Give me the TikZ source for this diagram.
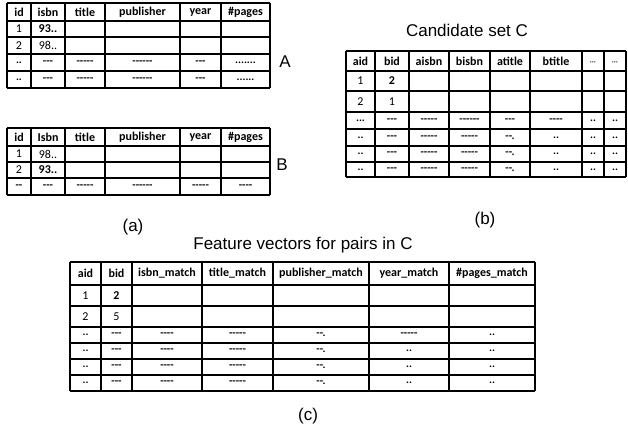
\documentclass[tikz,border=0pt]{standalone}
\usepackage{fontspec}
\setmainfont{Liberation Sans}
\newfontfamily\carlito[Ligatures=TeXOff]{Carlito}
\newcommand\Dtwo{..}
\newcommand\Dthree{...}
\newcommand\Dsix{......}
\newcommand\Dseven{.......}
\newcommand\Dsh{\textbf{--}.}
\tikzset{
 tbl/.style={line width=1.7pt},
 hd/.style={font=\carlito\bfseries\fontsize{12}{14}\selectfont, inner sep=0pt},
 cell/.style={font=\carlito\fontsize{12}{14}\selectfont, inner sep=0pt},
 bcell/.style={font=\carlito\bfseries\fontsize{12}{14}\selectfont, inner sep=0pt},
 dashcell/.style={font=\carlito\bfseries\fontsize{11}{13}\selectfont, inner sep=0pt},
 lbl/.style={font=\fontsize{17}{20}\selectfont, inner sep=0pt},
}
\begin{document}
\begin{tikzpicture}[x=1pt,y=-1pt]
\useasboundingbox (0,0) rectangle (628,424);

% ---------------- Table A ----------------
\foreach \x in {7,31,65,105,180,221,270} \draw[tbl] (\x,3) -- (\x,88);
\foreach \y in {3,21,37,54,71,88} \draw[tbl] (7,\y) -- (270,\y);
\foreach \x/\t [count=\i] in {19/id,48/isbn,85/title,142.5/publisher,200.5/year,245.5/\#pages}
  \node[hd] (Ah\i) at (\x,12) {\t};
\node[cell]  (Aa1) at (19,29) {1};
\node[bcell] (Ab1) at (48,29) {93..};
\node[cell]  (Aa2) at (19,45.5) {2};
\node[cell]  (Ab2) at (48,45.5) {98..};
\foreach \x/\t [count=\i] in {19/\Dtwo,48/---,85/-----,142.5/------,200.5/---,245.5/\Dseven}
  \node[dashcell] (Ac\i) at (\x,62.5) {\t};
\foreach \x/\t [count=\i] in {19/\Dtwo,48/---,85/-----,142.5/------,200.5/---,245.5/\Dsix}
  \node[dashcell] (Ad\i) at (\x,79.5) {\t};
\node[lbl] (labA) at (285,62) {A};

% ---------------- Table B ----------------
\foreach \x in {7,31,65,105,180,221,270} \draw[tbl] (\x,128) -- (\x,195);
\foreach \y in {128,146,162,178,195} \draw[tbl] (7,\y) -- (270,\y);
\foreach \x/\t [count=\i] in {19/id,48/Isbn,85/title,142.5/publisher,200.5/year,245.5/\#pages}
  \node[hd] (Bh\i) at (\x,137) {\t};
\node[cell]  (Ba1) at (19,154) {1};
\node[cell]  (Bb1) at (48,154) {98..};
\node[cell]  (Ba2) at (19,170) {2};
\node[bcell] (Bb2) at (48,170) {93..};
\foreach \x/\t [count=\i] in {19/--,48/---,85/-----,142.5/------,200.5/-----,245.5/----}
  \node[dashcell] (Bc\i) at (\x,186.5) {\t};
\node[lbl] (labB) at (282,165) {B};
\node[lbl] (laba) at (133,227) {(a)};

% ---------------- Table C ----------------
\node[lbl] (titC) at (467,30) {Candidate set C};
\foreach \x in {346,375,409,449,490,530,582,604,626} \draw[tbl] (\x,51) -- (\x,177);
\foreach \y in {51,71,91,112,129,146,162,177} \draw[tbl] (346,\y) -- (626,\y);
\foreach \x/\t [count=\i] in {360.5/aid,392/bid,429/aisbn,469.5/bisbn,510/atitle,556/btitle}
  \node[hd] (Ch\i) at (\x,61) {\t};
\node[cell, font=\carlito\itshape\fontsize{8}{9}\selectfont] (Ch7) at (593,63) {,,,};
\node[cell, font=\carlito\itshape\fontsize{8}{9}\selectfont] (Ch8) at (615,63) {,,,};
\node[cell]  (Ca1) at (360.5,81) {1};
\node[bcell] (Cb1) at (392,81) {2};
\node[cell]  (Ca2) at (360.5,101.5) {2};
\node[cell]  (Cb2) at (392,101.5) {1};
\foreach \x/\t [count=\i] in {360.5/\Dthree,392/---,429/-----,469.5/------,510/---,556/----,593/\Dtwo,615/\Dtwo}
  \node[dashcell] (Cc\i) at (\x,120.5) {\t};
\foreach \y/\r in {137.5/d,154/e,169.5/f}{
  \foreach \x/\t [count=\i] in {360.5/\Dtwo,392/---,429/-----,469.5/-----,510/\Dsh,556/\Dtwo,593/\Dtwo,615/\Dtwo}
    \node[dashcell] (C\r\i) at (\x,\y) {\t};
}
\node[lbl] (labb) at (485,220) {(b)};

% ---------------- Table (c) ----------------
\node[lbl] (titF) at (303,245) {Feature vectors for pairs in C};
\foreach \x in {70,101,132,202,273,369,449,535} \draw[tbl] (\x,262) -- (\x,391);
\foreach \y in {262,285,306,327,343,359,375,391} \draw[tbl] (70,\y) -- (535,\y);
\foreach \x/\t [count=\i] in {85.5/aid,116.5/bid,167/isbn\_match,237.5/title\_match,321/publisher\_match,409/year\_match,492/\#pages\_match}
  \node[hd] (Fh\i) at (\x,273.5) {\t};
\node[cell]  (Fa1) at (85.5,295.5) {1};
\node[bcell] (Fb1) at (116.5,295.5) {2};
\node[cell]  (Fa2) at (85.5,316.5) {2};
\node[cell]  (Fb2) at (116.5,316.5) {5};
\foreach \x/\t [count=\i] in {85.5/\Dtwo,116.5/---,167/----,237.5/-----,321/\Dsh,409/-----,492/\Dtwo}
  \node[dashcell] (Fc\i) at (\x,335) {\t};
\foreach \y/\r in {351/d,367/e,383/f}{
  \foreach \x/\t [count=\i] in {85.5/\Dtwo,116.5/---,167/----,237.5/-----,321/\Dsh,409/\Dtwo,492/\Dtwo}
    \node[dashcell] (F\r\i) at (\x,\y) {\t};
}
\node[lbl] (labc) at (308,416) {(c)};
\end{tikzpicture}
\end{document}
